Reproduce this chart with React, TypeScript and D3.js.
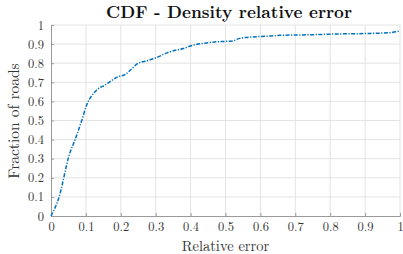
import React, { useRef, useEffect } from "react";
import * as d3 from "d3";

// CDF samples
const errX = [0, 0.021, 0.054, 0.069, 0.088, 0.102, 0.117, 0.131, 0.155, 0.174, 0.193, 0.212, 0.231, 0.25, 0.27, 0.307, 0.327, 0.341, 0.379, 0.408, 0.44, 0.475, 0.522, 0.54, 0.6, 0.627, 0.656, 0.723, 0.819, 0.914, 0.971, 1];
const fracY = [0, 0.087, 0.33, 0.4, 0.5, 0.58, 0.63, 0.66, 0.686, 0.71, 0.73, 0.74, 0.77, 0.8, 0.81, 0.833, 0.85, 0.86, 0.877, 0.895, 0.905, 0.912, 0.917, 0.93, 0.94, 0.942, 0.946, 0.948, 0.953, 0.956, 0.96, 0.968];
const xTicks = [0, 0.1, 0.2, 0.3, 0.4, 0.5, 0.6, 0.7, 0.8, 0.9, 1];
const yTicks = [0, 0.1, 0.2, 0.3, 0.4, 0.5, 0.6, 0.7, 0.8, 0.9, 1];

const W = 403;
const H = 254;
const font = "Latin Modern Roman, Liberation Serif, serif";

const App = () => {
  const ref = useRef<SVGSVGElement>(null);

  useEffect(() => {
    const svg = d3.select(ref.current);
    svg.selectAll("*").remove();

    const x = d3.scaleLinear().domain([0, 1]).range([51, 400]);
    const y = d3.scaleLinear().domain([0, 1]).range([216, 25]);

    // grid
    const grid = svg.append("g").attr("stroke", "#e3e3e3").attr("stroke-width", 1);
    xTicks.slice(1).forEach(t => {
      grid.append("line").attr("x1", x(t)).attr("x2", x(t)).attr("y1", y(0)).attr("y2", y(1));
    });
    yTicks.slice(1).forEach(t => {
      grid.append("line").attr("x1", x(0)).attr("x2", x(1)).attr("y1", y(t)).attr("y2", y(t));
    });

    // axes
    const xAxis = d3.axisBottom(x).tickValues(xTicks).tickSize(-3).tickPadding(6.5)
      .tickFormat(d => d3.format("")(d as number));
    const yAxis = d3.axisLeft(y).tickValues(yTicks).tickSize(-3).tickPadding(7)
      .tickFormat(d => d3.format("")(d as number));

    const gx = svg.append("g").attr("transform", `translate(0,${y(0)})`).call(xAxis);
    const gy = svg.append("g").attr("transform", `translate(${x(0)},0)`).call(yAxis);
    [gx, gy].forEach(g => {
      g.attr("font-family", font).attr("font-size", 12.5);
      g.select(".domain").attr("stroke", "#9a9a9a");
      g.selectAll(".tick line").attr("stroke", "#9a9a9a");
      g.selectAll(".tick text").attr("fill", "#333");
    });

    // curve
    const pts: [number, number][] = errX.map((v, i) => [v, fracY[i]]);
    const line = d3.line<[number, number]>().x(d => x(d[0])).y(d => y(d[1])).curve(d3.curveMonotoneX);
    svg.append("path")
      .datum(pts)
      .attr("d", line)
      .attr("fill", "none")
      .attr("stroke", "#0072BD")
      .attr("stroke-width", 1.5)
      .attr("stroke-dasharray", "4,1.5,1.2,1.5");

    // labels
    svg.append("text").attr("x", 229).attr("y", 18).attr("text-anchor", "middle")
      .attr("font-family", font).attr("font-size", 17).attr("font-weight", "bold")
      .attr("fill", "#111").text("CDF - Density relative error");
    svg.append("text").attr("x", 225.5).attr("y", 250.5).attr("text-anchor", "middle")
      .attr("font-family", font).attr("font-size", 14.5).attr("fill", "#333").text("Relative error");
    svg.append("text").attr("transform", "translate(19,121) rotate(-90)").attr("text-anchor", "middle")
      .attr("font-family", font).attr("font-size", 15.5).attr("fill", "#333").text("Fraction of roads");
  }, []);

  return (
    <svg ref={ref} width={W} height={H}
      style={{ position: "absolute", left: 0, top: 0, background: "#fff" }} />
  );
};

export default App;
